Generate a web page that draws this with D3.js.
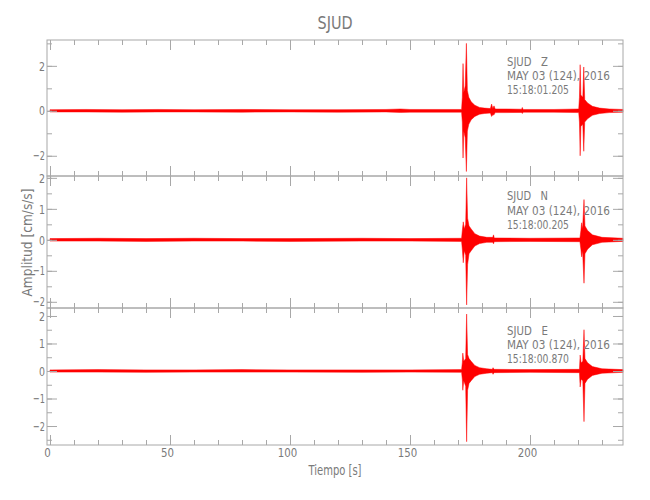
<!DOCTYPE html>
<html><head><meta charset="utf-8">
<script src="https://cdn.jsdelivr.net/npm/d3@7"></script>
<style>
body{margin:0;background:#fff;}
text{font-family:"DejaVu Sans","Liberation Sans",sans-serif;fill:#7a7a7a;}
</style></head>
<body><svg id="c" width="650" height="500"></svg>
<script>
// ---- data (envelope of each trace: time [s], upper, lower amplitude [cm/s/s]) ----
const title = "SJUD";
const components = ["Z", "N", "E"];
const startTimes = ["15:18:01.205", "15:18:00.205", "15:18:00.870"];
const dateLabel = "MAY 03 (124), 2016";
const xTicksMajor = [0, 50, 100, 150, 200];

const traceZ = [
  [0,0.05,-0.05],[15,0.06,-0.05],[30,0.05,-0.06],[45,0.06,-0.05],[60,0.05,-0.05],[80,0.06,-0.06],
  [100,0.05,-0.05],[120,0.05,-0.06],[140,0.06,-0.05],[146,0.08,-0.07],[150,0.06,-0.06],[171.5,0.06,-0.06],
  [171.8,0.6,-0.5],[172.1,2.1,-2.1],[172.4,0.8,-0.9],[173.0,1.1,-1.2],[173.5,3.0,-2.7],[173.9,0.9,-0.9],
  [174.5,0.6,-0.6],[175.5,0.4,-0.4],[177,0.25,-0.25],[179,0.15,-0.15],[181,0.12,-0.12],[183.5,0.1,-0.1],
  [184.0,0.3,-0.25],[184.5,0.1,-0.18],[185,0.22,-0.18],[185.5,0.08,-0.08],[190,0.08,-0.08],[196.5,0.07,-0.07],
  [196.8,0.15,-0.12],[197.1,0.06,-0.06],[210,0.06,-0.06],[220.3,0.08,-0.08],[220.6,0.6,-0.5],[220.9,2.05,-2.0],
  [221.2,0.7,-0.7],[222.0,0.6,-0.6],[222.4,1.95,-1.8],[222.8,0.5,-0.5],[224,0.35,-0.35],[226,0.2,-0.2],
  [229,0.12,-0.12],[233,0.08,-0.08],[238.75,0.06,-0.06]
];
const traceN = [
  [0,0.04,-0.04],[20,0.05,-0.04],[40,0.04,-0.05],[60,0.05,-0.04],[80,0.04,-0.04],[100,0.04,-0.05],
  [130,0.05,-0.04],[150,0.04,-0.04],[171.5,0.05,-0.05],[171.8,0.3,-0.3],[172.2,0.58,-0.74],[172.6,0.35,-0.35],
  [173.2,0.5,-0.5],[173.6,2.0,-2.1],[174.0,0.7,-0.8],[174.6,0.45,-0.45],[175.5,0.35,-0.35],[177,0.2,-0.2],
  [179,0.12,-0.12],[182,0.08,-0.08],[184.5,0.08,-0.08],[184.8,0.16,-0.13],[185.1,0.06,-0.06],[200,0.05,-0.05],
  [220.8,0.06,-0.06],[221.2,0.3,-0.3],[221.5,0.55,-0.55],[221.9,0.35,-0.35],[222.5,1.3,-1.4],[222.9,0.45,-0.45],
  [224,0.3,-0.3],[226,0.16,-0.16],[230,0.08,-0.08],[238.75,0.05,-0.05]
];
const traceE = [
  [0,0.04,-0.04],[20,0.05,-0.04],[40,0.04,-0.05],[60,0.04,-0.04],[80,0.05,-0.04],[100,0.04,-0.04],
  [130,0.04,-0.05],[150,0.04,-0.04],[171.5,0.05,-0.05],[171.8,0.3,-0.3],[172.0,0.65,-0.7],[172.4,0.35,-0.35],
  [173.2,0.45,-0.55],[173.6,2.07,-2.57],[174.0,0.6,-0.7],[174.6,0.45,-0.45],[175.5,0.35,-0.35],[177,0.2,-0.2],
  [179,0.12,-0.12],[182,0.08,-0.08],[184.3,0.06,-0.06],[184.6,0.12,-0.12],[185,0.06,-0.06],[200,0.05,-0.05],
  [220.6,0.06,-0.06],[220.9,0.58,-0.58],[221.3,0.3,-0.3],[222.0,0.35,-0.35],[222.5,1.5,-1.84],[222.9,0.45,-0.45],
  [224,0.3,-0.3],[226,0.16,-0.16],[230,0.08,-0.08],[238.75,0.05,-0.05]
];
const traces = [traceZ, traceN, traceE];
const yDomains = [[-2.9, 3.15], [-2.2, 2.06], [-2.69, 2.29]];
const yMajorStep = [2, 1, 1];
const yMinorStep = [1, 0.5, 0.5];

// ---- layout ----
const L = 47, R = 623;
const panelEdges = [40, 176, 308, 445];
const axisColor = "#a8a8a8";
const textColor = "#7a7a7a";
const svg = d3.select("#c");
const x = d3.scaleLinear().domain([-1.25, 238.75]).range([L, R]);

function fitText(sel, w){ return sel.attr("textLength", w).attr("lengthAdjust", "spacingAndGlyphs"); }

svg.append("text").attr("x", (L+R)/2).attr("y", 29).attr("text-anchor","middle")
  .style("font-size","17px").call(fitText, 35).text(title);

function ticksFor(dom, step){
  const a = Math.ceil(dom[0]/step - 1e-9), b = Math.floor(dom[1]/step + 1e-9);
  return d3.range(a, b+1).map(k => +(k*step).toFixed(6));
}
function styleAxis(g){
  g.select(".domain").remove();
  g.selectAll("line").attr("stroke", axisColor);
  g.selectAll("text").style("font-size","13px").attr("fill", textColor);
}

traces.forEach((tr, i) => {
  const top = panelEdges[i], bot = panelEdges[i+1];
  const y = d3.scaleLinear().domain(yDomains[i]).range([bot, top]);
  const g = svg.append("g");

  // trace
  const area = d3.area().x(d => x(d[0])).y0(d => y(d[2])).y1(d => y(d[1]));
  g.append("path").datum(tr).attr("d", area)
    .attr("fill", "#ff0000").attr("stroke", "#ff0000").attr("stroke-width", 0.5);

  // y axes
  const maj = ticksFor(yDomains[i], yMajorStep[i]);
  const min = ticksFor(yDomains[i], yMinorStep[i]);
  g.append("g").attr("transform", `translate(${L},0)`)
    .call(d3.axisLeft(y).tickValues(min).tickSize(-5).tickFormat("")).call(styleAxis);
  const yl = g.append("g").attr("transform", `translate(${L},0)`)
    .call(d3.axisLeft(y).tickValues(maj).tickSize(-10).tickPadding(2).tickFormat(d3.format("d"))).call(styleAxis);
  yl.selectAll("text").text(d => d < 0 ? "\u2212" + Math.abs(d) : d)
    .each(function(d){ d3.select(this).attr("textLength", d < 0 ? 12 : 6).attr("lengthAdjust","spacingAndGlyphs"); });
  g.append("g").attr("transform", `translate(${R},0)`)
    .call(d3.axisRight(y).tickValues(min).tickSize(-5).tickFormat("")).call(styleAxis);
  g.append("g").attr("transform", `translate(${R},0)`)
    .call(d3.axisRight(y).tickValues(maj).tickSize(-10).tickFormat("")).call(styleAxis);

  // x axes (top and bottom of each panel)
  const xMinor = d3.range(0, 239, 10);
  g.append("g").attr("transform", `translate(0,${top})`)
    .call(d3.axisTop(x).tickValues(xMinor).tickSize(-5).tickFormat("")).call(styleAxis);
  g.append("g").attr("transform", `translate(0,${top})`)
    .call(d3.axisTop(x).tickValues(xTicksMajor).tickSize(-10).tickFormat("")).call(styleAxis);
  g.append("g").attr("transform", `translate(0,${bot})`)
    .call(d3.axisBottom(x).tickValues(xMinor).tickSize(-5).tickFormat("")).call(styleAxis);
  const bx = g.append("g").attr("transform", `translate(0,${bot})`)
    .call(d3.axisBottom(x).tickValues(xTicksMajor).tickSize(-10).tickPadding(3)
      .tickFormat(i === 2 ? d3.format("d") : "")).call(styleAxis);
  bx.selectAll("text").attr("dx", "-3")
    .each(function(d){ d3.select(this).attr("textLength", String(d).length * 6.5).attr("lengthAdjust","spacingAndGlyphs"); });

  // box
  g.append("rect").attr("x", L).attr("y", top).attr("width", R-L).attr("height", bot-top)
    .attr("fill","none").attr("stroke", axisColor).attr("stroke-width", 1);

  // annotation
  const offs = [[26,40,54],[24,39,53],[27,41,55]][i];
  const lines = [`SJUD   ${components[i]}`, dateLabel, startTimes[i]];
  const widths = [41, 103, 62];
  lines.forEach((t, k) => {
    g.append("text").attr("x", 507).attr("y", top + offs[k])
      .style("font-size","12.5px").style("white-space","pre").attr("fill", textColor)
      .call(fitText, widths[k]).text(t);
  });
});

svg.append("text").attr("x", (L+R)/2).attr("y", 475).attr("text-anchor","middle")
  .style("font-size","14px").call(fitText, 53).text("Tiempo [s]");
svg.append("text").attr("transform", `translate(32,${(panelEdges[0]+panelEdges[3])/2}) rotate(-90)`)
  .attr("text-anchor","middle").style("font-size","14px").call(fitText, 108).text("Amplitud [cm/s/s]");
</script></body></html>
